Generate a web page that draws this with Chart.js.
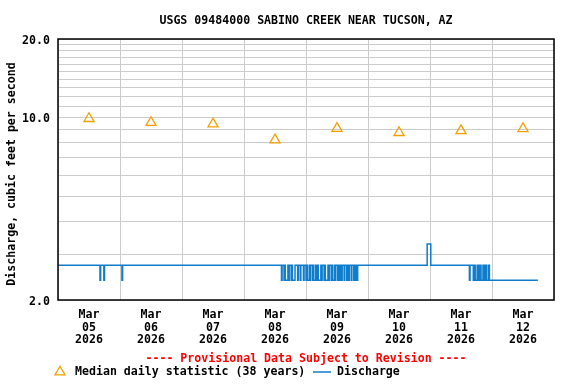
<!DOCTYPE html>
<html>
<head>
<meta charset="utf-8">
<script src="https://cdn.jsdelivr.net/npm/chart.js@4/dist/chart.umd.min.js"></script>
<style>
  html, body { margin: 0; padding: 0; background: #fff; }
  #wrap { width: 576px; height: 384px; }
</style>
</head>
<body>
<div id="wrap"><canvas id="c" width="576" height="384"></canvas></div>
<script>
// ---- Data (x values are hours after 2026-03-05 00:00) ----
const chartTitle = 'USGS 09484000 SABINO CREEK NEAR TUCSON, AZ';
const yAxisTitle = 'Discharge, cubic feet per second';
const provisionalNote = '---- Provisional Data Subject to Revision ----';
const medianLabel = 'Median daily statistic (38 years)';
const dischargeLabel = 'Discharge';

const tickMonths = ['Mar','Mar','Mar','Mar','Mar','Mar','Mar','Mar'];
const tickDays   = ['05','06','07','08','09','10','11','12'];
const tickYears  = ['2026','2026','2026','2026','2026','2026','2026','2026'];
const dayNoonHours = [12, 36, 60, 84, 108, 132, 156, 180];
const dayStartHours = [0, 24, 48, 72, 96, 120, 144, 168, 192];

const yGridValues = [2,3,4,5,6,7,8,9,10,11,12,13,14,15,16,17,18,19,20];
const yLabelValues = [2, 10, 20];

const medianHours  = [12, 36, 60, 84, 108, 132, 156, 180];
const medianValues = [9.91, 9.57, 9.45, 8.21, 9.09, 8.76, 8.91, 9.07];

// discharge: change points (value holds until next change)
const dischargeHours = [
  0, 16.25, 16.5, 17.75, 18.0, 24.75, 25.0,
  86.5, 86.75, 87.5, 87.75, 88.0, 89.0, 89.25, 89.5, 90.25, 90.5, 90.75, 91.75,
  92.75, 93.0, 93.75, 94.0,
  95.0, 95.25, 96.0, 96.25, 96.5, 97.25, 97.5, 97.75, 98.5, 98.75,
  99.0, 99.75, 100.0, 100.25, 100.75, 101.75, 102.0, 102.25, 103.0, 103.25,
  103.5, 104.5, 104.75, 105.0, 105.75, 106.0, 106.25, 107.0, 107.25, 107.5,
  108.25, 108.5, 108.75, 109.25,
  109.75, 110.0, 110.75, 111.0, 111.75, 112.0, 112.5, 112.75, 113.5, 113.75,
  114.5, 115.0, 115.25, 115.5, 115.75, 116.0,
  142.9, 144.3,
  159.25, 159.5, 160.75, 161.0, 161.5, 162.25, 162.5, 162.75, 163.25, 163.5,
  163.75, 164.5, 164.75, 165.0, 165.5, 165.75, 166.0, 166.75,
  167.0, 185.75
];
const dischargeValues = [
  2.72, 2.38, 2.72, 2.38, 2.72, 2.38, 2.72,
  2.38, 2.72, 2.38, 2.72, 2.38, 2.72, 2.38, 2.72, 2.38, 2.72, 2.38, 2.72,
  2.38, 2.72, 2.38, 2.72,
  2.38, 2.72, 2.38, 2.72, 2.38, 2.72, 2.38, 2.72, 2.38, 2.72,
  2.38, 2.72, 2.38, 2.72, 2.38, 2.72, 2.38, 2.72, 2.38, 2.72,
  2.38, 2.72, 2.38, 2.72, 2.38, 2.72, 2.38, 2.72, 2.38, 2.72,
  2.38, 2.72, 2.38, 2.72,
  2.38, 2.72, 2.38, 2.72, 2.38, 2.72, 2.38, 2.72, 2.38, 2.72,
  2.38, 2.72, 2.38, 2.72, 2.38, 2.72,
  3.28, 2.72,
  2.38, 2.72, 2.38, 2.72, 2.38, 2.72, 2.38, 2.72, 2.38, 2.72,
  2.38, 2.72, 2.38, 2.72, 2.38, 2.72, 2.38, 2.72,
  2.38, 2.38
];

// ---- Styles ----
const FONT = "'DejaVu Sans Mono', monospace";
const FONT_SIZE = 11.6;
const ORANGE = '#f5a000';
const BLUE = '#0f7ccc';
const GRID = '#cccccc';

const overlay = {
  id: 'overlay',
  afterDraw(chart) {
    const ctx = chart.ctx;
    const a = chart.chartArea;
    ctx.save();
    // frame
    ctx.strokeStyle = '#000';
    ctx.lineWidth = 1.5;
    ctx.strokeRect(a.left, a.top, a.right - a.left, a.bottom - a.top);
    ctx.font = 'bold ' + FONT_SIZE + 'px ' + FONT;
    ctx.fillStyle = '#000';
    ctx.textBaseline = 'middle';
    // title
    ctx.textAlign = 'center';
    ctx.fillText(chartTitle, 306, 20.5);
    // y title
    ctx.save();
    ctx.translate(12, 174);
    ctx.rotate(-Math.PI / 2);
    ctx.fillText(yAxisTitle, 0, 0);
    ctx.restore();
    // provisional note
    ctx.fillStyle = '#ff0000';
    ctx.fillText(provisionalNote, 306, 359);
    // legend
    const ly = 372;
    ctx.strokeStyle = ORANGE;
    ctx.lineWidth = 1.3;
    const r = 5.8;
    ctx.beginPath();
    ctx.moveTo(60, ly - r);
    ctx.lineTo(60 + r * Math.sin(Math.PI * 2 / 3), ly + r / 2);
    ctx.lineTo(60 - r * Math.sin(Math.PI * 2 / 3), ly + r / 2);
    ctx.closePath();
    ctx.stroke();
    ctx.fillStyle = '#000';
    ctx.textAlign = 'left';
    ctx.fillText(medianLabel, 75, ly);
    ctx.strokeStyle = BLUE;
    ctx.lineWidth = 1.5;
    ctx.beginPath();
    ctx.moveTo(313, ly);
    ctx.lineTo(331, ly);
    ctx.stroke();
    ctx.fillText(dischargeLabel, 337, ly);
    ctx.restore();
  }
};

new Chart(document.getElementById('c').getContext('2d'), {
  type: 'line',
  data: {
    datasets: [
      {
        label: dischargeLabel,
        data: dischargeHours.map((h, i) => ({ x: h, y: dischargeValues[i] })),
        stepped: true,
        borderColor: BLUE,
        borderWidth: 1.5,
        pointRadius: 0,
        fill: false,
        xAxisID: 'x',
        yAxisID: 'y'
      },
      {
        label: medianLabel,
        data: medianHours.map((h, i) => ({ x: h, y: medianValues[i] })),
        showLine: false,
        pointStyle: 'triangle',
        pointRadius: 5.8,
        pointBorderWidth: 1.3,
        borderColor: ORANGE,
        pointBorderColor: ORANGE,
        pointBackgroundColor: 'rgba(0,0,0,0)',
        backgroundColor: 'rgba(0,0,0,0)',
        xAxisID: 'x',
        yAxisID: 'y'
      }
    ]
  },
  options: {
    responsive: false,
    animation: false,
    devicePixelRatio: 1,
    layout: { padding: { top: 39, right: 22, left: 0, bottom: 0 } },
    plugins: {
      legend: { display: false },
      title: { display: false },
      tooltip: { enabled: false }
    },
    scales: {
      x: {
        type: 'linear',
        position: 'bottom',
        min: 0, max: 192,
        afterBuildTicks: s => { s.ticks = dayStartHours.map(v => ({ value: v })); },
        ticks: { display: false, autoSkip: false },
        grid: { color: GRID, lineWidth: 1, drawTicks: false },
        border: { display: false },
        afterFit: s => { s.height = 0; }
      },
      x2: {
        type: 'linear',
        position: 'bottom',
        min: 0, max: 192,
        afterBuildTicks: s => { s.ticks = dayNoonHours.map(v => ({ value: v })); },
        ticks: {
          autoSkip: false,
          maxRotation: 0,
          padding: 8,
          color: '#000',
          font: { family: FONT, size: FONT_SIZE, weight: 'bold', lineHeight: 1.12 },
          callback: (v, i) => [tickMonths[i], tickDays[i], tickYears[i]]
        },
        grid: { display: false, drawTicks: false },
        border: { display: false },
        afterFit: s => { s.height = 84; }
      },
      y: {
        type: 'logarithmic',
        min: 2, max: 20,
        afterBuildTicks: s => { s.ticks = yGridValues.map(v => ({ value: v })); },
        ticks: {
          autoSkip: false,
          padding: 8,
          labelOffset: 1.5,
          color: '#000',
          font: { family: FONT, size: FONT_SIZE, weight: 'bold' },
          callback: v => yLabelValues.includes(v) ? v.toFixed(1) : ''
        },
        grid: { color: GRID, lineWidth: 1, drawTicks: false },
        border: { display: false },
        afterFit: s => { s.width = 58; }
      }
    }
  },
  plugins: [overlay]
});
</script>
</body>
</html>
